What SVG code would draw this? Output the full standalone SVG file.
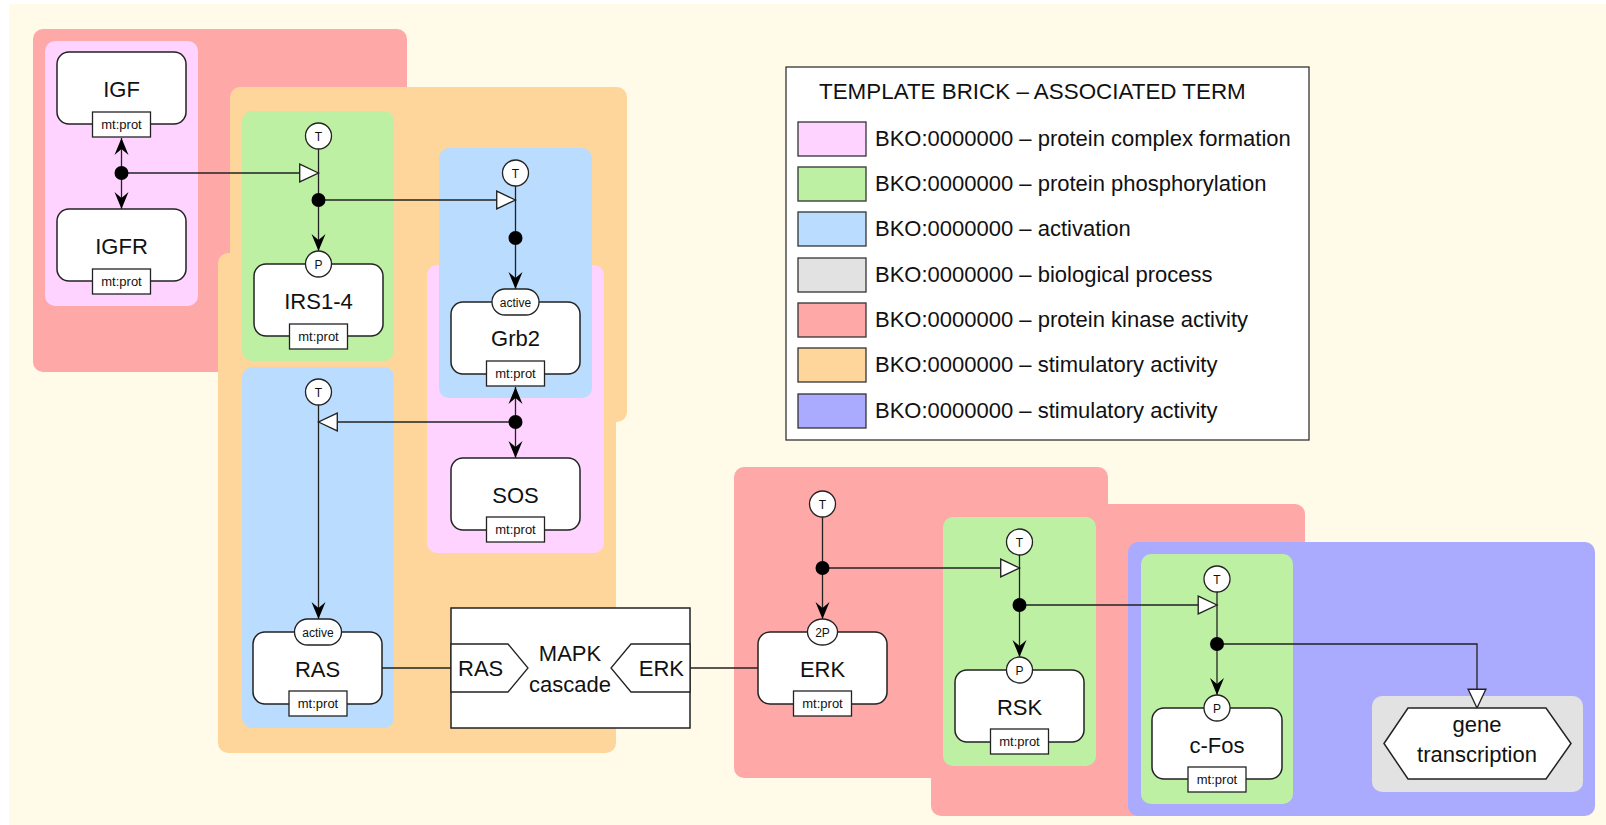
<svg xmlns="http://www.w3.org/2000/svg" width="1606" height="825" viewBox="0 0 1606 825">
  <defs>
    <style>
      text { font-family: "Liberation Sans", Arial, sans-serif; fill: #111; }
      .lbl { font-size: 22px; text-anchor: middle; }
      .small { font-size: 13px; text-anchor: middle; }
      .tiny { font-size: 12px; text-anchor: middle; }
      .leg { font-size: 22px; }
      .node { fill: #fff; stroke: #222; stroke-width: 1.5; }
      .tag { fill: #fff; stroke: #222; stroke-width: 1.3; }
      .line { fill: none; stroke: #222; stroke-width: 1.3; }
      .dot { fill: #000; }
      .pink { fill: #FFD3FF; }
      .green { fill: #BEF0A4; }
      .blue { fill: #B9DCFF; }
      .grey { fill: #E2E2E2; }
      .red { fill: #FFA8A8; }
      .orange { fill: #FED69B; }
      .violet { fill: #AAAAFF; }
      .sw { stroke: #333; stroke-width: 1.3; }
    </style>
    <marker id="stealth" markerUnits="userSpaceOnUse" markerWidth="20" markerHeight="20" viewBox="-18 -10 20 20" refX="0" refY="0" orient="auto">
      <path d="M0,0 L-17,-7 L-11,0 L-17,7 Z" fill="#000"/>
    </marker>
    <marker id="open" markerUnits="userSpaceOnUse" markerWidth="24" markerHeight="24" viewBox="-21 -11 23 22" refX="0" refY="0" orient="auto">
      <path d="M0,0 L-18,-8.5 L-18,8.5 Z" fill="#fff" stroke="#222" stroke-width="1.3"/>
    </marker>
  </defs>

  <!-- page -->
  <rect x="9" y="4" width="1597" height="821" fill="#FFFBE8"/>

  <!-- template brick regions -->
  <g id="regions">
    <rect class="red" x="33" y="29" width="374" height="343" rx="10"/>
    <rect class="orange" x="230" y="87" width="397" height="335" rx="10"/>
    <rect class="orange" x="218" y="253" width="398" height="500" rx="10"/>
    <rect class="pink" x="45" y="41" width="153" height="265" rx="10"/>
    <rect class="green" x="242" y="111" width="152" height="250" rx="10"/>
    <rect class="pink" x="427" y="265" width="177" height="288" rx="10"/>
    <rect class="blue" x="439" y="148" width="153" height="250" rx="10"/>
    <rect class="blue" x="242" y="367" width="152" height="361" rx="10"/>
    <rect class="red" x="734" y="467" width="374" height="311" rx="10"/>
    <rect class="red" x="931" y="504" width="374" height="312" rx="10"/>
    <rect class="green" x="943" y="517" width="153" height="249" rx="10"/>
    <rect class="violet" x="1128" y="542" width="467" height="274" rx="10"/>
    <rect class="green" x="1141" y="554" width="152" height="250" rx="10"/>
    <rect class="grey" x="1372" y="696" width="211" height="96" rx="10"/>
  </g>

  <!-- arcs and process junctions -->
  <g id="connectors">
    <!-- IGF : IGFR association -->
    <path class="line" d="M121.5,173 V138" marker-end="url(#stealth)"/>
    <path class="line" d="M121.5,173 V209" marker-end="url(#stealth)"/>
    <path class="line" d="M121.5,173 H318.5" marker-end="url(#open)"/>
    <!-- IRS1-4 phosphorylation -->
    <path class="line" d="M318.5,149 V251" marker-end="url(#stealth)"/>
    <path class="line" d="M318.5,200 H515.5" marker-end="url(#open)"/>
    <!-- Grb2 activation -->
    <path class="line" d="M515.5,186 V289" marker-end="url(#stealth)"/>
    <!-- Grb2 : SOS association -->
    <path class="line" d="M515.5,422 V387" marker-end="url(#stealth)"/>
    <path class="line" d="M515.5,422 V458" marker-end="url(#stealth)"/>
    <path class="line" d="M515.5,422 H318.5" marker-end="url(#open)"/>
    <!-- RAS activation -->
    <path class="line" d="M318.5,405 V619" marker-end="url(#stealth)"/>
    <!-- MAPK cascade links -->
    <path class="line" d="M382,668 H451"/>
    <path class="line" d="M690,668 H758"/>
    <!-- ERK phosphorylation -->
    <path class="line" d="M822.5,517 V619" marker-end="url(#stealth)"/>
    <path class="line" d="M822.5,568 H1019.5" marker-end="url(#open)"/>
    <!-- RSK phosphorylation -->
    <path class="line" d="M1019.5,555 V657" marker-end="url(#stealth)"/>
    <path class="line" d="M1019.5,605 H1217" marker-end="url(#open)"/>
    <!-- c-Fos phosphorylation -->
    <path class="line" d="M1217,592 V695" marker-end="url(#stealth)"/>
    <path class="line" d="M1217,644 H1477 V708" marker-end="url(#open)"/>
    <!-- junction dots -->
    <circle class="dot" cx="121.5" cy="173" r="7"/>
    <circle class="dot" cx="318.5" cy="200" r="7"/>
    <circle class="dot" cx="515.5" cy="238" r="7"/>
    <circle class="dot" cx="515.5" cy="422" r="7"/>
    <circle class="dot" cx="822.5" cy="568" r="7"/>
    <circle class="dot" cx="1019.5" cy="605" r="7"/>
    <circle class="dot" cx="1217" cy="644" r="7"/>
  </g>

  <!-- transition sources -->
  <g id="t-irs"><circle class="tag" cx="318.5" cy="136" r="13"/><text class="tiny" x="318.5" y="140.5">T</text></g>
  <g id="t-grb2"><circle class="tag" cx="515.5" cy="173" r="13"/><text class="tiny" x="515.5" y="177.5">T</text></g>
  <g id="t-ras"><circle class="tag" cx="318.5" cy="392" r="13"/><text class="tiny" x="318.5" y="396.5">T</text></g>
  <g id="t-erk"><circle class="tag" cx="822.5" cy="504" r="13"/><text class="tiny" x="822.5" y="508.5">T</text></g>
  <g id="t-rsk"><circle class="tag" cx="1019.5" cy="542" r="13"/><text class="tiny" x="1019.5" y="546.5">T</text></g>
  <g id="t-cfos"><circle class="tag" cx="1217" cy="579" r="13"/><text class="tiny" x="1217" y="583.5">T</text></g>

  <!-- macromolecules -->
  <g id="igf">
    <rect class="node" x="57" y="52" width="129" height="72" rx="12"/>
    <text class="lbl" x="121.5" y="97">IGF</text>
    <rect class="tag" x="92.5" y="112" width="58" height="25"/>
    <text class="small" x="121.5" y="129">mt:prot</text>
  </g>
  <g id="igfr">
    <rect class="node" x="57" y="209" width="129" height="72" rx="12"/>
    <text class="lbl" x="121.5" y="254">IGFR</text>
    <rect class="tag" x="92.5" y="269" width="58" height="25"/>
    <text class="small" x="121.5" y="286">mt:prot</text>
  </g>
  <g id="irs">
    <rect class="node" x="254" y="264" width="129" height="72" rx="12"/>
    <text class="lbl" x="318.5" y="309">IRS1-4</text>
    <rect class="tag" x="289.5" y="324" width="58" height="25"/>
    <text class="small" x="318.5" y="341">mt:prot</text>
    <circle class="tag" cx="318.5" cy="264" r="13"/>
    <text class="tiny" x="318.5" y="268.5">P</text>
  </g>
  <g id="grb2">
    <rect class="node" x="451" y="302" width="129" height="72" rx="12"/>
    <text class="lbl" x="515.5" y="346">Grb2</text>
    <rect class="tag" x="486.5" y="361" width="58" height="25"/>
    <text class="small" x="515.5" y="378">mt:prot</text>
    <rect class="tag" x="492" y="289" width="47" height="26" rx="13"/>
    <text class="tiny" x="515.5" y="306.5">active</text>
  </g>
  <g id="sos">
    <rect class="node" x="451" y="458" width="129" height="72" rx="12"/>
    <text class="lbl" x="515.5" y="503">SOS</text>
    <rect class="tag" x="486.5" y="517" width="58" height="25"/>
    <text class="small" x="515.5" y="534">mt:prot</text>
  </g>
  <g id="ras">
    <rect class="node" x="253" y="632" width="129" height="72" rx="12"/>
    <text class="lbl" x="317.5" y="677">RAS</text>
    <rect class="tag" x="289" y="691" width="58" height="25"/>
    <text class="small" x="318" y="708">mt:prot</text>
    <rect class="tag" x="294.5" y="619" width="47" height="26" rx="13"/>
    <text class="tiny" x="318" y="636.5">active</text>
  </g>
  <g id="mapk">
    <rect class="node" x="451" y="608" width="239" height="120"/>
    <polygon class="tag" points="451,644 508,644 528,668 508,692 451,692"/>
    <text class="lbl" x="458" y="676" style="text-anchor:start">RAS</text>
    <polygon class="tag" points="690,644 631,644 611,668 631,692 690,692"/>
    <text class="lbl" x="684" y="676" style="text-anchor:end">ERK</text>
    <text class="lbl" x="570" y="661">MAPK</text>
    <text class="lbl" x="570" y="692">cascade</text>
  </g>
  <g id="erk">
    <rect class="node" x="758" y="632" width="129" height="72" rx="12"/>
    <text class="lbl" x="822.5" y="677">ERK</text>
    <rect class="tag" x="793.5" y="691" width="58" height="25"/>
    <text class="small" x="822.5" y="708">mt:prot</text>
    <ellipse class="tag" cx="822.5" cy="632" rx="15" ry="13"/>
    <text class="tiny" x="822.5" y="636.5">2P</text>
  </g>
  <g id="rsk">
    <rect class="node" x="955" y="670" width="129" height="72" rx="12"/>
    <text class="lbl" x="1019.5" y="715">RSK</text>
    <rect class="tag" x="990.5" y="729" width="58" height="25"/>
    <text class="small" x="1019.5" y="746">mt:prot</text>
    <circle class="tag" cx="1019.5" cy="670" r="13"/>
    <text class="tiny" x="1019.5" y="674.5">P</text>
  </g>
  <g id="cfos">
    <rect class="node" x="1152" y="708" width="130" height="71" rx="12"/>
    <text class="lbl" x="1217" y="753">c-Fos</text>
    <rect class="tag" x="1188" y="767" width="58" height="25"/>
    <text class="small" x="1217" y="784">mt:prot</text>
    <circle class="tag" cx="1217" cy="708" r="13"/>
    <text class="tiny" x="1217" y="712.5">P</text>
  </g>
  <g id="gene-transcription">
    <polygon class="node" points="1384,743.5 1408,708 1546,708 1571,743.5 1546,779 1408,779"/>
    <text class="lbl" x="1477" y="732">gene</text>
    <text class="lbl" x="1477" y="762">transcription</text>
  </g>

  <!-- legend -->
  <g id="legend">
    <rect x="786" y="67" width="523" height="373" fill="#fff" stroke="#333" stroke-width="1.3"/>
    <text x="819" y="99" style="font-size:22.4px">TEMPLATE BRICK – ASSOCIATED TERM</text>
    <rect class="sw pink" x="798" y="122" width="68" height="34"/>
    <text class="leg" x="875" y="145.5">BKO:0000000 – protein complex formation</text>
    <rect class="sw green" x="798" y="167" width="68" height="34"/>
    <text class="leg" x="875" y="190.5">BKO:0000000 – protein phosphorylation</text>
    <rect class="sw blue" x="798" y="212" width="68" height="34"/>
    <text class="leg" x="875" y="235.5">BKO:0000000 – activation</text>
    <rect class="sw grey" x="798" y="258" width="68" height="34"/>
    <text class="leg" x="875" y="281.5">BKO:0000000 – biological process</text>
    <rect class="sw red" x="798" y="303" width="68" height="34"/>
    <text class="leg" x="875" y="326.5">BKO:0000000 – protein kinase activity</text>
    <rect class="sw orange" x="798" y="348" width="68" height="34"/>
    <text class="leg" x="875" y="371.5">BKO:0000000 – stimulatory activity</text>
    <rect class="sw violet" x="798" y="394" width="68" height="34"/>
    <text class="leg" x="875" y="417.5">BKO:0000000 – stimulatory activity</text>
  </g>
</svg>
